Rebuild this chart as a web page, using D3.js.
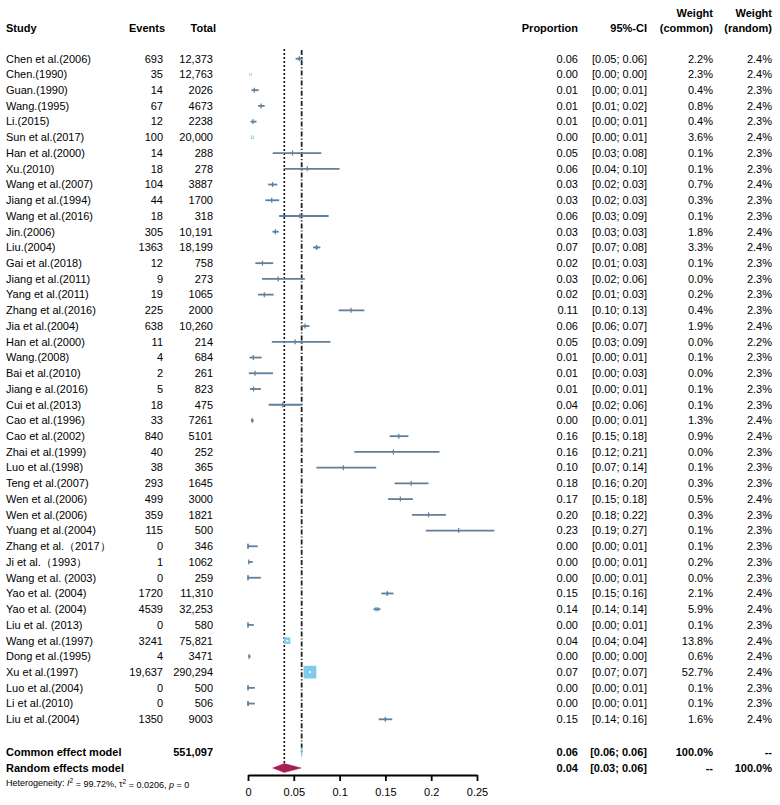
<!DOCTYPE html>
<html>
<head>
<meta charset="utf-8">
<script src="https://cdn.jsdelivr.net/npm/d3@7"></script>
<style>
  body { margin: 0; background: #fff; }
  svg { font-family: "Liberation Sans", Arial, Helvetica, sans-serif; }
</style>
</head>
<body>
<div id="chart"></div>
<script>
// study data
var studies = ["Chen et al.(2006)", "Chen.(1990)", "Guan.(1990)", "Wang.(1995)", "Li.(2015)", "Sun et al.(2017)",
  "Han et al.(2000)", "Xu.(2010)", "Wang et al.(2007)", "Jiang et al.(1994)", "Wang et al.(2016)", "Jin.(2006)",
  "Liu.(2004)", "Gai et al.(2018)", "Jiang et al.(2011)", "Yang et al.(2011)", "Zhang et al.(2016)", "Jia et al.(2004)",
  "Han et al.(2000)", "Wang.(2008)", "Bai et al.(2010)", "Jiang e al.(2016)", "Cui et al.(2013)", "Cao et al.(1996)",
  "Cao et al.(2002)", "Zhai et al.(1999)", "Luo et al.(1998)", "Teng et al.(2007)", "Wen et al.(2006)", "Wen et al.(2006)",
  "Yuang et al.(2004)", "Zhang et al.（2017）", "Ji et al.（1993）", "Wang et al. (2003)", "Yao et al. (2004)", "Yao et al. (2004)",
  "Liu et al. (2013)", "Wang et al.(1997)", "Dong et al.(1995)", "Xu et al.(1997)", "Luo et al.(2004)", "Li et al.(2010)",
  "Liu et al.(2004)"];
var events = [693, 35, 14, 67, 12, 100, 14, 18, 104, 44, 18, 305, 1363, 12, 9, 19, 225, 638, 11, 4, 2, 5, 18, 33,
  840, 40, 38, 293, 499, 359, 115, 0, 1, 0, 1720, 4539, 0, 3241, 4, 19637, 0, 0, 1350];
var totals = [12373, 12763, 2026, 4673, 2238, 20000, 288, 278, 3887, 1700, 318, 10191, 18199, 758, 273, 1065, 2000, 10260,
  214, 684, 261, 823, 475, 7261, 5101, 252, 365, 1645, 3000, 1821, 500, 346, 1062, 259, 11310, 32253, 580, 75821, 3471,
  290294, 500, 506, 9003];
var props = [0.056, 0.0027, 0.0069, 0.0143, 0.0054, 0.0049, 0.0486, 0.0647, 0.0268, 0.0259, 0.0566, 0.0299, 0.0749, 0.0158,
  0.033, 0.0178, 0.1125, 0.0622, 0.0514, 0.0058, 0.0077, 0.0061, 0.0379, 0.0045, 0.1647, 0.1587, 0.1041, 0.1781, 0.1663,
  0.1971, 0.23, 0, 0.0009, 0, 0.1521, 0.1407, 0, 0.0427, 0.0012, 0.0676, 0, 0, 0.1499];
var lower = [0.052, 0.0019, 0.0038, 0.0111, 0.0028, 0.0041, 0.027, 0.039, 0.022, 0.019, 0.034, 0.0267, 0.071, 0.008,
  0.0153, 0.011, 0.099, 0.0576, 0.026, 0.0016, 0.0009, 0.002, 0.0226, 0.0031, 0.1546, 0.116, 0.0747, 0.16, 0.153,
  0.179, 0.194, 0, 0.00002, 0, 0.1455, 0.137, 0, 0.0413, 0.0003, 0.0667, 0, 0, 0.1426];
var upper = [0.06, 0.0038, 0.0116, 0.0182, 0.0093, 0.0061, 0.08, 0.1, 0.032, 0.034, 0.088, 0.0335, 0.079, 0.0275,
  0.062, 0.028, 0.127, 0.067, 0.09, 0.0149, 0.0274, 0.0141, 0.0593, 0.0064, 0.1751, 0.209, 0.14, 0.197, 0.18,
  0.216, 0.269, 0.0106, 0.0052, 0.0141, 0.1588, 0.1446, 0.0063, 0.0442, 0.0029, 0.0686, 0.0074, 0.0073, 0.1575];
var wCommon = [2.2, 2.3, 0.4, 0.8, 0.4, 3.6, 0.1, 0.1, 0.7, 0.3, 0.1, 1.8, 3.3, 0.1, 0.0, 0.2, 0.4, 1.9, 0.0, 0.1, 0.0,
  0.1, 0.1, 1.3, 0.9, 0.0, 0.1, 0.3, 0.5, 0.3, 0.1, 0.1, 0.2, 0.0, 2.1, 5.9, 0.1, 13.8, 0.6, 52.7, 0.1, 0.1, 1.6];
var wRandom = [2.4, 2.4, 2.3, 2.4, 2.3, 2.4, 2.3, 2.3, 2.4, 2.3, 2.3, 2.4, 2.4, 2.3, 2.3, 2.3, 2.3, 2.4, 2.2, 2.3, 2.3,
  2.3, 2.3, 2.4, 2.4, 2.3, 2.3, 2.3, 2.4, 2.3, 2.3, 2.3, 2.3, 2.3, 2.4, 2.4, 2.3, 2.4, 2.4, 2.4, 2.3, 2.3, 2.4];

// pooled estimates
var modelNames = ["Common effect model", "Random effects model"];
var modelEst = [0.0586, 0.0396];
var modelLower = [0.0582, 0.027];
var modelUpper = [0.059, 0.058];
var totalN = 551097;
var xTicks = [0, 0.05, 0.1, 0.15, 0.2, 0.25];

var width = 780, height = 805;
var ciColor = "#5f7f9b", boxColor = "#7ecbe9", diamondColor = "#a91d55";

var svg = d3.select("#chart").append("svg")
    .attr("width", width)
    .attr("height", height);

var x = d3.scaleLinear().domain([0, 0.25]).range([248, 477]);
var y = d3.scalePoint().domain(d3.range(studies.length)).range([58.7, 719.3]);
// box side proportional to sqrt of common-effect weight
var boxSize = d3.scaleSqrt().domain([0, 52.7]).range([0, 12.7]);

var fmt2 = d3.format(".2f");
var fmtN = function(n) { return n >= 10000 ? d3.format(",")(n) : String(n); };
var fmtW = function(w) { return d3.format(".1f")(w) + "%"; };

function addText(txt, tx, ty, anchor, bold, size) {
  return svg.append("text")
      .attr("x", tx)
      .attr("y", ty)
      .attr("dy", "0.35em")
      .attr("text-anchor", anchor || "start")
      .style("font-size", (size || 11) + "px")
      .style("font-weight", bold ? "bold" : "normal")
      .style("fill", "#000")
      .text(txt);
}

// header
addText("Study", 6, 28, "start", true);
addText("Events", 165, 28, "end", true);
addText("Total", 216, 28, "end", true);
addText("Proportion", 578, 28, "end", true);
addText("95%-CI", 647, 28, "end", true);
addText("Weight", 713, 13, "end", true);
addText("(common)", 713, 28, "end", true);
addText("Weight", 772, 13, "end", true);
addText("(random)", 772, 28, "end", true);

// reference lines for pooled estimates
svg.append("line")
    .attr("x1", x(modelEst[1])).attr("x2", x(modelEst[1]))
    .attr("y1", 50).attr("y2", 765)
    .style("stroke", "#000")
    .style("stroke-width", 2)
    .style("stroke-dasharray", "0.1,3.9")
    .style("stroke-linecap", "round");
svg.append("line")
    .attr("x1", x(modelEst[0])).attr("x2", x(modelEst[0]))
    .attr("y1", 50).attr("y2", 752)
    .style("stroke", "#222")
    .style("stroke-width", 1.8)
    .style("stroke-dasharray", "5,2,1.2,2");

// study rows
var rows = svg.append("g").selectAll("g")
    .data(d3.range(studies.length))
    .enter().append("g");

rows.each(function(i) {
  var g = d3.select(this);
  var cy = y(i);
  var s = boxSize(wCommon[i]);
  var x1 = x(lower[i]), x2 = x(upper[i]), cx = x(props[i]);
  var inside = (x2 - x1) <= s;

  g.append("rect")
      .attr("x", cx - s / 2).attr("y", cy - s / 2)
      .attr("width", s).attr("height", s)
      .style("fill", boxColor);

  g.append("line")
      .attr("x1", x1).attr("x2", x2)
      .attr("y1", cy).attr("y2", cy)
      .style("stroke", inside ? "#fff" : ciColor)
      .style("stroke-width", inside ? 1.2 : 1.8);

  if (inside) {
    g.append("line")
        .attr("x1", cx).attr("x2", cx)
        .attr("y1", cy - 1).attr("y2", cy + 1)
        .style("stroke", "#fff").style("stroke-width", 1.2);
  } else if (s < 4) {
    g.append("line")
        .attr("x1", cx).attr("x2", cx)
        .attr("y1", cy - 2.5).attr("y2", cy + 2.5)
        .style("stroke", ciColor).style("stroke-width", 1.2);
  }
  if (lower[i] === 0) {
    g.append("line")
        .attr("x1", x1).attr("x2", x1)
        .attr("y1", cy - 2.5).attr("y2", cy + 2.5)
        .style("stroke", ciColor).style("stroke-width", 1.2);
  }

  addText(studies[i], 6, cy, "start");
  addText(fmtN(events[i]), 163, cy, "end");
  addText(fmtN(totals[i]), 213, cy, "end");
  addText(fmt2(props[i]), 578, cy, "end");
  addText("[" + fmt2(lower[i]) + "; " + fmt2(upper[i]) + "]", 647, cy, "end");
  addText(fmtW(wCommon[i]), 713, cy, "end");
  addText(fmtW(wRandom[i]), 772, cy, "end");
});

// pooled rows
var modelY = [752, 768];
modelNames.forEach(function(name, k) {
  var cy = modelY[k];
  svg.append("path")
      .attr("d", "M" + x(modelLower[k]) + "," + cy +
                 "L" + x(modelEst[k]) + "," + (cy - 4.5) +
                 "L" + x(modelUpper[k]) + "," + cy +
                 "L" + x(modelEst[k]) + "," + (cy + 4.5) + "Z")
      .style("fill", k === 0 ? boxColor : diamondColor)
      .style("stroke", k === 0 ? boxColor : diamondColor)
      .style("stroke-width", k === 0 ? 1 : 0.5);

  addText(name, 6, cy, "start", true);
  addText(fmt2(modelEst[k]), 578, cy, "end", true);
  addText("[" + fmt2(modelLower[k]) + "; " + fmt2(modelUpper[k]) + "]", 647, cy, "end", true);
  addText(k === 0 ? "100.0%" : "--", 713, cy, "end", true);
  addText(k === 0 ? "--" : "100.0%", 772, cy, "end", true);
});
addText(fmtN(totalN), 213, modelY[0], "end", true);

// heterogeneity line
var het = svg.append("text")
    .attr("x", 6).attr("y", 783).attr("dy", "0.35em")
    .style("font-size", "9px");
het.append("tspan").text("Heterogeneity: ");
het.append("tspan").style("font-style", "italic").text("I");
het.append("tspan").attr("dy", "-0.45em").style("font-size", "6.5px").text("2");
het.append("tspan").attr("dy", "0.45em").text(" = 99.72%, τ");
het.append("tspan").attr("dy", "-0.45em").style("font-size", "6.5px").text("2");
het.append("tspan").attr("dy", "0.45em").text(" = 0.0206, ");
het.append("tspan").style("font-style", "italic").text("p");
het.append("tspan").text(" = 0");

// x axis
var axis = svg.append("g")
    .attr("transform", "translate(0,775)")
    .call(d3.axisBottom(x)
      .tickValues(xTicks)
      .tickSize(6)
      .tickSizeOuter(0)
      .tickPadding(7)
      .tickFormat(d3.format("~g")));
axis.select(".domain").style("stroke-width", 1.8);
axis.selectAll(".tick line").style("stroke-width", 1.8);
axis.selectAll(".tick text")
    .style("font-size", "11px")
    .style("font-family", "'Liberation Sans', Arial, sans-serif");
</script>
</body>
</html>
